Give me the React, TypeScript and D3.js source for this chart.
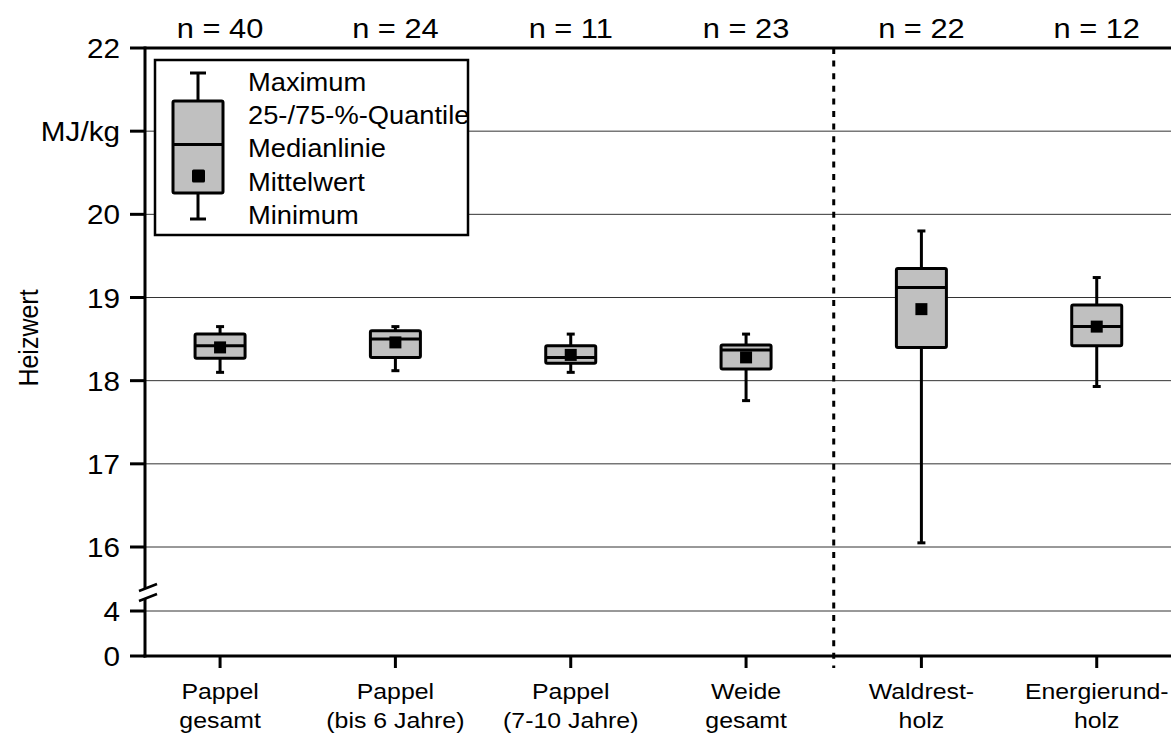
import React from "react";
import * as d3 from "d3";

const categories = [
  ["Pappel", "gesamt"],
  ["Pappel", "(bis 6 Jahre)"],
  ["Pappel", "(7-10 Jahre)"],
  ["Weide", "gesamt"],
  ["Waldrest-", "holz"],
  ["Energierund-", "holz"],
];
const nLabels = ["n = 40", "n = 24", "n = 11", "n = 23", "n = 22", "n = 12"];
const minVals = [18.1, 18.12, 18.1, 17.76, 16.05, 17.93];
const q1Vals = [18.27, 18.28, 18.21, 18.14, 18.4, 18.42];
const medianVals = [18.42, 18.5, 18.28, 18.37, 19.12, 18.65];
const meanVals = [18.4, 18.46, 18.31, 18.28, 18.86, 18.65];
const q3Vals = [18.56, 18.6, 18.42, 18.43, 19.35, 18.91];
const maxVals = [18.65, 18.65, 18.56, 18.56, 19.8, 19.24];
const yTicks = [0, 4, 16, 17, 18, 19, 20, 21, 22];
const yTickLabels = ["0", "4", "16", "17", "18", "19", "20", "MJ/kg", "22"];
const gridValues = [4, 16, 17, 18, 19, 20, 21];
const legendLabels = ["Maximum", "25-/75-%-Quantile", "Medianlinie", "Mittelwert", "Minimum"];

const W = 1171;
const H = 735;
const FONT = "'Liberation Sans', Arial, sans-serif";

function T({
  x,
  y,
  size,
  sx = 1.1,
  anchor = "start",
  children,
}: {
  x: number;
  y: number;
  size: number;
  sx?: number;
  anchor?: string;
  children: React.ReactNode;
}) {
  return (
    <text
      transform={`translate(${x},${y}) scale(${sx},1)`}
      textAnchor={anchor}
      fontSize={size}
      fill="#000"
    >
      {children}
    </text>
  );
}

export default function App() {
  const idx = categories.map((_, i) => String(i));
  const x = d3.scaleBand<string>().domain(idx).range([132.4, 1184.4]).paddingInner(0).paddingOuter(0);
  const y = d3.scaleLinear().domain([0, 4, 16, 22]).range([656, 611, 547, 48]);
  const left = 145;
  const top = y(22);
  const bottom = y(0);
  const cx = (i: number) => (x(String(i)) as number) + x.bandwidth() / 2;
  const boxW = 50;
  const capW = 8;
  const meanS = 12;
  const sep = (cx(3) + cx(4)) / 2;

  const box = (
    key: string,
    c: number,
    mn: number,
    q1: number,
    md: number,
    mean: number,
    q3: number,
    mx: number
  ) => (
    <g key={key}>
      <line x1={c} x2={c} y1={y(mx)} y2={y(mn)} stroke="#000" strokeWidth={3} />
      <line x1={c - capW / 2} x2={c + capW / 2} y1={y(mx)} y2={y(mx)} stroke="#000" strokeWidth={3} />
      <line x1={c - capW / 2} x2={c + capW / 2} y1={y(mn)} y2={y(mn)} stroke="#000" strokeWidth={3} />
      <rect
        x={c - boxW / 2}
        y={y(q3)}
        width={boxW}
        height={y(q1) - y(q3)}
        fill="#c0c0c0"
        stroke="#000"
        strokeWidth={3}
        rx={1.5}
      />
      <line x1={c - boxW / 2} x2={c + boxW / 2} y1={y(md)} y2={y(md)} stroke="#000" strokeWidth={3} />
      <rect x={c - meanS / 2} y={y(mean) - meanS / 2} width={meanS} height={meanS} fill="#000" />
    </g>
  );

  return (
    <svg
      width={W}
      height={H}
      style={{ position: "absolute", left: 0, top: 0, background: "#fff" }}
      fontFamily={FONT}
    >
      <rect x={0} y={0} width={W} height={H} fill="#fff" />
      {gridValues.map((v) => (
        <line key={"g" + v} x1={left} x2={W} y1={y(v)} y2={y(v)} stroke="#333" strokeWidth={1} />
      ))}
      <line x1={sep} x2={sep} y1={top} y2={bottom + 12} stroke="#000" strokeWidth={3} strokeDasharray="6 6.6" />
      {categories.map((_, i) =>
        box("b" + i, cx(i), minVals[i], q1Vals[i], medianVals[i], meanVals[i], q3Vals[i], maxVals[i])
      )}
      <line x1={left} x2={W} y1={top} y2={top} stroke="#000" strokeWidth={3} />
      <line x1={left - 1.5} x2={W} y1={bottom} y2={bottom} stroke="#000" strokeWidth={3} />
      <line x1={left} x2={left} y1={top - 1.5} y2={589} stroke="#000" strokeWidth={3} />
      <line x1={left} x2={left} y1={599} y2={bottom + 1.5} stroke="#000" strokeWidth={3} />
      <line x1={139} x2={157} y1={591} y2={584} stroke="#000" strokeWidth={2.5} />
      <line x1={139} x2={157} y1={601} y2={594} stroke="#000" strokeWidth={2.5} />
      {yTicks.map((v, i) => (
        <g key={"yt" + v}>
          <line x1={left - 15} x2={left} y1={y(v)} y2={y(v)} stroke="#000" strokeWidth={3} />
          <T x={left - 25} y={y(v) + 10} size={28} sx={1.06} anchor="end">
            {yTickLabels[i]}
          </T>
        </g>
      ))}
      {categories.map((lines, i) => (
        <g key={"xt" + i}>
          <line x1={cx(i)} x2={cx(i)} y1={bottom} y2={bottom + 12} stroke="#000" strokeWidth={3} />
          <T x={cx(i)} y={699} size={22} sx={1.13} anchor="middle">
            {lines[0]}
          </T>
          <T x={cx(i)} y={728} size={22} sx={1.13} anchor="middle">
            {lines[1]}
          </T>
          <T x={cx(i)} y={38} size={28} sx={1.1} anchor="middle">
            {nLabels[i]}
          </T>
        </g>
      ))}
      <text
        transform={`translate(38, 338) scale(1.12,1) rotate(-90)`}
        textAnchor="middle"
        fontSize={25}
        fill="#000"
      >
        Heizwert
      </text>
      <rect x={155} y={60} width={313} height={175} fill="#fff" stroke="#000" strokeWidth={2.5} />
      <g>
        <line x1={198} x2={198} y1={73} y2={219} stroke="#000" strokeWidth={3} />
        <line x1={190} x2={206} y1={73} y2={73} stroke="#000" strokeWidth={3} />
        <line x1={190} x2={206} y1={219} y2={219} stroke="#000" strokeWidth={3} />
        <rect x={173} y={101} width={50} height={92} fill="#c0c0c0" stroke="#000" strokeWidth={3} rx={1.5} />
        <line x1={173} x2={223} y1={144.5} y2={144.5} stroke="#000" strokeWidth={3} />
        <rect x={192} y={169.5} width={13} height={13} fill="#000" rx={1.5} />
      </g>
      {legendLabels.map((t, i) => (
        <T key={"lg" + i} x={248} y={91 + i * 33.2} size={26} sx={1.05}>
          {t}
        </T>
      ))}
    </svg>
  );
}
